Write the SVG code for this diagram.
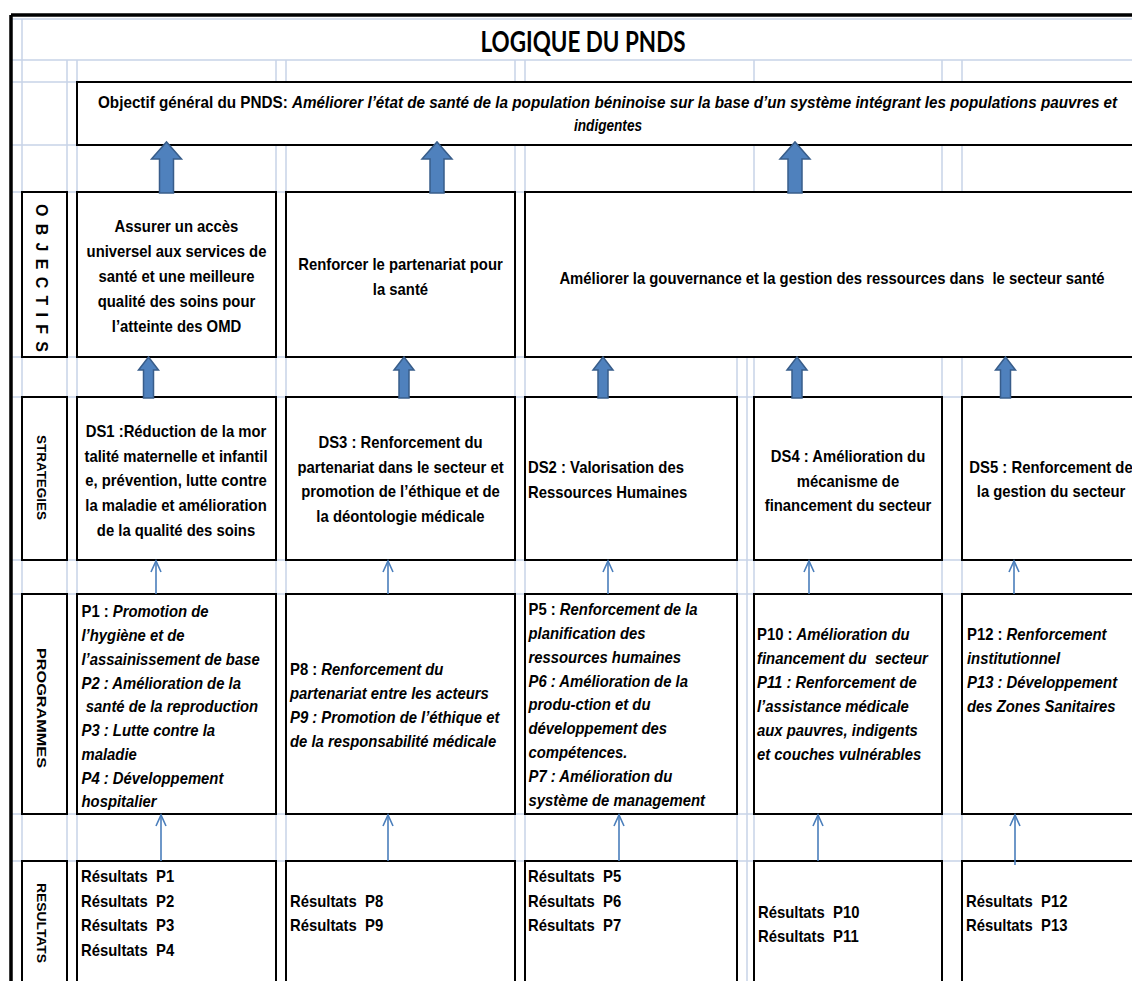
<svg xmlns="http://www.w3.org/2000/svg" width="1132" height="981" viewBox="0 0 1132 981">
<style>
.grid{stroke:#c8d4e7;stroke-width:1.5;fill:none}
.box{fill:#fff;stroke:#000;stroke-width:2}
.t{font-family:"Liberation Sans",Arial,sans-serif;font-weight:bold;font-size:16.5px;fill:#000}
.it{font-style:italic}
.c{text-anchor:middle}
.pre{white-space:pre}
.lab{font-family:"Liberation Sans",Arial,sans-serif;font-weight:bold;fill:#000;text-anchor:middle}
.thin{stroke:#4a7ebb;stroke-width:1.6;fill:none}
.blk{fill:#4f81bd;stroke:#385d8a;stroke-width:1.5}
</style>
<defs>
<marker id="ah" markerUnits="userSpaceOnUse" markerWidth="14" markerHeight="14" viewBox="0 0 14 14" refX="12" refY="6" orient="auto">
<path d="M1,1 L12,6 L1,11" fill="none" stroke="#4a7ebb" stroke-width="1.6"/>
</marker>
<path id="bigArrow" d="M-7,193 L-7,159 L-15,159 L0,142 L15,159 L7,159 L7,193 Z"/>
<path id="midArrow" d="M-5,398 L-5,370 L-10,370 L0,357 L10,370 L5,370 L5,398 Z"/>
</defs>
<rect width="1132" height="981" fill="#fff"/>
<g id="grid">
<path class="grid" d="M12,19 H1132 M12,60 H1132 M12,82 H1132 M12,145 H1132 M12,192 H1132 M12,357 H1132 M12,397 H1132 M12,560 H1132 M12,594 H1132 M12,814 H1132 M12,861 H1132"/>
<path class="grid" d="M22,19 V981 M67,60 V981 M77,60 V981 M276,60 V981 M286,60 V981 M515,60 V981 M525,60 V981 M737,357 V981 M747,357 V981 M754,60 V981 M942,60 V981 M962,60 V981"/>
</g>
<g id="frame">
<path d="M11,15 H1132 M11,15 V981" stroke="#000" stroke-width="3.5" fill="none"/>
</g>
<g id="title">
<text x="583" y="52" font-family="Lato, 'Open Sans', sans-serif" font-weight="bold" font-size="28" text-anchor="middle" textLength="205" lengthAdjust="spacingAndGlyphs">LOGIQUE DU PNDS</text>
</g>
<g id="objectif-general">
<rect class="box" x="77" y="82" width="1057" height="63"/>
<g transform="translate(98 0) scale(0.85 1)">
<text class="t" x="0" y="108" font-size="16" textLength="1199" lengthAdjust="spacingAndGlyphs">Objectif général du PNDS: <tspan class="it">Améliorer l’état de santé de la population béninoise sur la base d’un système intégrant les populations pauvres et</tspan></text>
</g>
<g transform="translate(608 0) scale(0.85 1)">
<text class="t it c" x="0" y="131" font-size="16" textLength="80" lengthAdjust="spacingAndGlyphs">indigentes</text>
</g>
</g>
<g id="label-objectifs">
<rect class="box" x="22" y="192" width="45" height="165"/>
<text class="lab" font-size="16" transform="translate(35.5 278) rotate(90)" textLength="148" lengthAdjust="spacing">OBJECTIFS</text>
</g>
<g id="obj1">
<rect class="box" x="77" y="192" width="199" height="165"/>
<g transform="translate(176.5 0) scale(0.9 1)">
<text class="t c" x="0" y="232">Assurer un accès</text>
<text class="t c" x="0" y="257">universel aux services de</text>
<text class="t c" x="0" y="282">santé et une meilleure</text>
<text class="t c" x="0" y="307">qualité des soins pour</text>
<text class="t c" x="0" y="332">l’atteinte des OMD</text>
</g>
</g>
<g id="obj2">
<rect class="box" x="286" y="192" width="229" height="165"/>
<g transform="translate(400.5 0) scale(0.9 1)">
<text class="t c" x="0" y="270">Renforcer le partenariat pour</text>
<text class="t c" x="0" y="295">la santé</text>
</g>
</g>
<g id="obj3">
<rect class="box" x="525" y="192" width="609" height="165"/>
<g transform="translate(832 0) scale(0.9 1)">
<text class="t c pre" x="0" y="284">Améliorer la gouvernance et la gestion des ressources dans  le secteur santé</text>
</g>
</g>
<g id="label-strategies">
<rect class="box" x="22" y="397" width="45" height="163"/>
<text class="lab" font-size="13" transform="translate(36.5 477.5) rotate(90)" textLength="85" lengthAdjust="spacingAndGlyphs">STRATEGIES</text>
</g>
<g id="ds1">
<rect class="box" x="77" y="397" width="199" height="163"/>
<g transform="translate(176 0) scale(0.9 1)">
<text class="t c" x="0" y="437">DS1 :Réduction de la mor</text>
<text class="t c" x="0" y="462">talité maternelle et infantil</text>
<text class="t c" x="0" y="486">e, prévention, lutte contre</text>
<text class="t c" x="0" y="511">la maladie et amélioration</text>
<text class="t c" x="0" y="536">de la qualité des soins</text>
</g>
</g>
<g id="ds3">
<rect class="box" x="286" y="397" width="229" height="163"/>
<g transform="translate(400.5 0) scale(0.9 1)">
<text class="t c" x="0" y="448">DS3 : Renforcement du</text>
<text class="t c" x="0" y="473">partenariat dans le secteur et</text>
<text class="t c" x="0" y="497">promotion de l’éthique et de</text>
<text class="t c" x="0" y="522">la déontologie médicale</text>
</g>
</g>
<g id="ds2">
<rect class="box" x="525" y="397" width="212" height="163"/>
<g transform="translate(528 0) scale(0.9 1)">
<text class="t" x="0" y="473">DS2 : Valorisation des</text>
<text class="t" x="0" y="498">Ressources Humaines</text>
</g>
</g>
<g id="ds4">
<rect class="box" x="754" y="397" width="188" height="163"/>
<g transform="translate(848 0) scale(0.9 1)">
<text class="t c" x="0" y="462">DS4 : Amélioration du</text>
<text class="t c" x="0" y="487">mécanisme de</text>
<text class="t c" x="0" y="511">financement du secteur</text>
</g>
</g>
<g id="ds5">
<rect class="box" x="962" y="397" width="172" height="163"/>
<g transform="translate(1051 0) scale(0.9 1)">
<text class="t c" x="0" y="473">DS5 : Renforcement de</text>
<text class="t c" x="0" y="497">la gestion du secteur</text>
</g>
</g>
<g id="label-programmes">
<rect class="box" x="22" y="594" width="45" height="220"/>
<text class="lab" font-size="13" transform="translate(36.5 708) rotate(90)" textLength="120" lengthAdjust="spacingAndGlyphs">PROGRAMMES</text>
</g>
<g id="prog1">
<rect class="box" x="77" y="594" width="199" height="220"/>
<g transform="translate(81.5 0) scale(0.9 1)">
<text class="t" x="0" y="617">P1 : <tspan class="it">Promotion de</tspan></text>
<text class="t it" x="0" y="641">l’hygiène et de</text>
<text class="t it" x="0" y="665">l’assainissement de base</text>
<text class="t it" x="0" y="689">P2 : Amélioration de la</text>
<text class="t it" x="4.8" y="712">santé de la reproduction</text>
<text class="t it" x="0" y="736">P3 : Lutte contre la</text>
<text class="t it" x="0" y="760">maladie</text>
<text class="t it" x="0" y="784">P4 : Développement</text>
<text class="t it" x="0" y="807">hospitalier</text>
</g>
</g>
<g id="prog2">
<rect class="box" x="286" y="594" width="229" height="220"/>
<g transform="translate(290 0) scale(0.9 1)">
<text class="t" x="0" y="675">P8 : <tspan class="it">Renforcement du</tspan></text>
<text class="t it" x="0" y="699">partenariat entre les acteurs</text>
<text class="t it" x="0" y="723">P9 : Promotion de l’éthique et</text>
<text class="t it" x="0" y="747">de la responsabilité médicale</text>
</g>
</g>
<g id="prog3">
<rect class="box" x="525" y="594" width="212" height="220"/>
<g transform="translate(528.5 0) scale(0.9 1)">
<text class="t" x="0" y="615">P5 : <tspan class="it">Renforcement de la</tspan></text>
<text class="t it" x="0" y="639">planification des</text>
<text class="t it" x="0" y="663">ressources humaines</text>
<text class="t it" x="0" y="687">P6 : Amélioration de la</text>
<text class="t it" x="0" y="710">produ-ction et du</text>
<text class="t it" x="0" y="734">développement des</text>
<text class="t it" x="0" y="758">compétences.</text>
<text class="t it" x="0" y="782">P7 : Amélioration du</text>
<text class="t it" x="0" y="806">système de management</text>
</g>
</g>
<g id="prog4">
<rect class="box" x="754" y="594" width="188" height="220"/>
<g transform="translate(757 0) scale(0.9 1)">
<text class="t" x="0" y="640">P10 : <tspan class="it">Amélioration du</tspan></text>
<text class="t it pre" x="0" y="664">financement du  secteur</text>
<text class="t it" x="0" y="688">P11 : Renforcement de</text>
<text class="t it" x="0" y="712">l’assistance médicale</text>
<text class="t it" x="0" y="736">aux pauvres, indigents</text>
<text class="t it" x="0" y="760">et couches vulnérables</text>
</g>
</g>
<g id="prog5">
<rect class="box" x="962" y="594" width="172" height="220"/>
<g transform="translate(967 0) scale(0.9 1)">
<text class="t" x="0" y="640">P12 : <tspan class="it">Renforcement</tspan></text>
<text class="t it" x="0" y="664">institutionnel</text>
<text class="t it" x="0" y="688">P13 : Développement</text>
<text class="t it" x="0" y="712">des Zones Sanitaires</text>
</g>
</g>
<g id="label-resultats">
<rect class="box" x="22" y="861" width="45" height="140"/>
<text class="lab" font-size="13" transform="translate(36.5 923) rotate(90)" textLength="80" lengthAdjust="spacingAndGlyphs">RESULTATS</text>
</g>
<g id="res1">
<rect class="box" x="77" y="861" width="199" height="140"/>
<g transform="translate(81 0) scale(0.9 1)">
<text class="t pre" x="0" y="882">Résultats  P1</text>
<text class="t pre" x="0" y="907">Résultats  P2</text>
<text class="t pre" x="0" y="931">Résultats  P3</text>
<text class="t pre" x="0" y="956">Résultats  P4</text>
</g>
</g>
<g id="res2">
<rect class="box" x="286" y="861" width="229" height="140"/>
<g transform="translate(290 0) scale(0.9 1)">
<text class="t pre" x="0" y="907">Résultats  P8</text>
<text class="t pre" x="0" y="931">Résultats  P9</text>
</g>
</g>
<g id="res3">
<rect class="box" x="525" y="861" width="212" height="140"/>
<g transform="translate(528 0) scale(0.9 1)">
<text class="t pre" x="0" y="882">Résultats  P5</text>
<text class="t pre" x="0" y="907">Résultats  P6</text>
<text class="t pre" x="0" y="931">Résultats  P7</text>
</g>
</g>
<g id="res4">
<rect class="box" x="754" y="861" width="188" height="140"/>
<g transform="translate(758 0) scale(0.9 1)">
<text class="t pre" x="0" y="918">Résultats  P10</text>
<text class="t pre" x="0" y="942">Résultats  P11</text>
</g>
</g>
<g id="res5">
<rect class="box" x="962" y="861" width="172" height="140"/>
<g transform="translate(966 0) scale(0.9 1)">
<text class="t pre" x="0" y="907">Résultats  P12</text>
<text class="t pre" x="0" y="931">Résultats  P13</text>
</g>
</g>
<g id="connectors">
<use href="#bigArrow" class="blk" x="166.5"/>
<use href="#bigArrow" class="blk" x="437"/>
<use href="#bigArrow" class="blk" x="795"/>
<use href="#midArrow" class="blk" x="148.5"/>
<use href="#midArrow" class="blk" x="404"/>
<use href="#midArrow" class="blk" x="603"/>
<use href="#midArrow" class="blk" x="797"/>
<use href="#midArrow" class="blk" x="1005.5"/>
<path class="thin" marker-end="url(#ah)" d="M156,594 V561"/>
<path class="thin" marker-end="url(#ah)" d="M388,594 V561"/>
<path class="thin" marker-end="url(#ah)" d="M608,594 V561"/>
<path class="thin" marker-end="url(#ah)" d="M809,594 V561"/>
<path class="thin" marker-end="url(#ah)" d="M1014,594 V561"/>
<path class="thin" marker-end="url(#ah)" d="M161,861 V815"/>
<path class="thin" marker-end="url(#ah)" d="M388,861 V815"/>
<path class="thin" marker-end="url(#ah)" d="M619,861 V815"/>
<path class="thin" marker-end="url(#ah)" d="M818,861 V815"/>
<path class="thin" marker-end="url(#ah)" d="M1015,865 V815"/>
</g>
</svg>
